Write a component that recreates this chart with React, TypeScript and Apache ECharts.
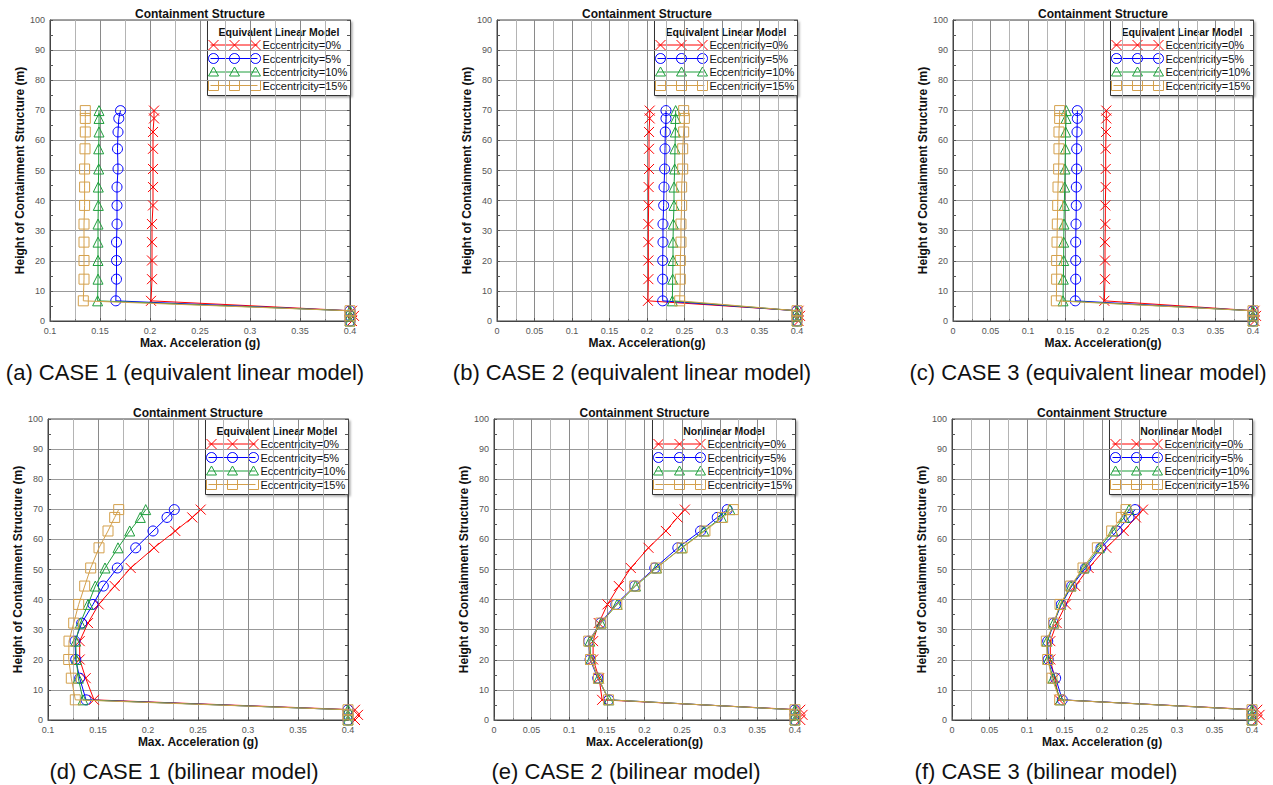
import React, { useEffect, useRef } from "react";
import * as echarts from "echarts";

// Heights of measurement points (m)
const heights = [69.9, 67.3, 62.8, 57.2, 50.5, 44.5, 38.4, 32.2, 26.2, 20.1, 13.9, 6.7, 3.4, 1.7, 0];

// (a) CASE 1 equivalent linear
const caseA_ecc0 = [0.204, 0.204, 0.203, 0.203, 0.203, 0.203, 0.203, 0.202, 0.202, 0.202, 0.202, 0.201, 0.402, 0.404, 0.402];
const caseA_ecc5 = [0.1705, 0.1688, 0.168, 0.1675, 0.168, 0.167, 0.167, 0.167, 0.1665, 0.1665, 0.1665, 0.1658, 0.4, 0.4, 0.4];
const caseA_ecc10 = [0.149, 0.149, 0.149, 0.1487, 0.1487, 0.1483, 0.1483, 0.148, 0.148, 0.148, 0.148, 0.1476, 0.4, 0.4, 0.4];
const caseA_ecc15 = [0.1353, 0.1353, 0.1353, 0.135, 0.1346, 0.1346, 0.1346, 0.134, 0.134, 0.134, 0.134, 0.1333, 0.4, 0.4, 0.4];

// (b) CASE 2 equivalent linear
const caseB_ecc0 = [0.2036, 0.2036, 0.2027, 0.2027, 0.2027, 0.2022, 0.2022, 0.2018, 0.2018, 0.2018, 0.2018, 0.2013, 0.402, 0.404, 0.402];
const caseB_ecc5 = [0.2253, 0.2253, 0.2244, 0.224, 0.2236, 0.2227, 0.2222, 0.2213, 0.2213, 0.2209, 0.2209, 0.2209, 0.4, 0.4, 0.4];
const caseB_ecc10 = [0.2382, 0.2382, 0.2378, 0.2373, 0.2369, 0.236, 0.236, 0.2351, 0.2347, 0.2347, 0.2342, 0.2338, 0.4, 0.4, 0.4];
const caseB_ecc15 = [0.2489, 0.2498, 0.2489, 0.2476, 0.2476, 0.2462, 0.2462, 0.2453, 0.2453, 0.2444, 0.2444, 0.2436, 0.4, 0.4, 0.4];

// (c) CASE 3 equivalent linear
const caseC_ecc0 = [0.2044, 0.2044, 0.204, 0.2036, 0.2036, 0.2036, 0.2031, 0.2031, 0.2027, 0.2027, 0.2027, 0.2018, 0.402, 0.404, 0.402];
const caseC_ecc5 = [0.1658, 0.1658, 0.1653, 0.1649, 0.1649, 0.1644, 0.1644, 0.164, 0.1636, 0.1636, 0.1636, 0.1631, 0.4, 0.4, 0.4];
const caseC_ecc10 = [0.1511, 0.1507, 0.1502, 0.1498, 0.1493, 0.1489, 0.1484, 0.148, 0.1476, 0.1476, 0.1471, 0.1467, 0.4, 0.4, 0.4];
const caseC_ecc15 = [0.1422, 0.1422, 0.1413, 0.1413, 0.1409, 0.14, 0.1396, 0.1391, 0.1387, 0.1382, 0.1382, 0.1378, 0.4, 0.4, 0.4];

// (d) CASE 1 bilinear
const caseD_ecc0 = [0.2527, 0.2443, 0.2273, 0.206, 0.1827, 0.1667, 0.1507, 0.14, 0.1317, 0.1317, 0.1377, 0.146, 0.407, 0.41, 0.407];
const caseD_ecc5 = [0.2263, 0.219, 0.205, 0.1877, 0.1693, 0.1553, 0.145, 0.1337, 0.127, 0.1277, 0.1317, 0.138, 0.4, 0.4, 0.4];
const caseD_ecc10 = [0.1977, 0.1923, 0.1817, 0.17, 0.157, 0.1473, 0.14, 0.1323, 0.1277, 0.1283, 0.1303, 0.135, 0.4, 0.4, 0.4];
const caseD_ecc15 = [0.1707, 0.1667, 0.16, 0.151, 0.1427, 0.1367, 0.1307, 0.1257, 0.121, 0.1207, 0.1233, 0.1273, 0.4, 0.4, 0.4];

// (e) CASE 2 bilinear
const caseE_ecc0 = [0.2537, 0.2439, 0.2284, 0.2053, 0.1818, 0.1659, 0.1508, 0.1392, 0.1317, 0.1317, 0.1397, 0.1437, 0.407, 0.41, 0.407];
const caseE_ecc5 = [0.31, 0.2967, 0.2745, 0.2443, 0.2137, 0.1871, 0.1619, 0.1415, 0.1259, 0.1277, 0.1379, 0.1526, 0.4, 0.4, 0.4];
const caseE_ecc10 = [0.3135, 0.3024, 0.2789, 0.2492, 0.216, 0.188, 0.1636, 0.1424, 0.1273, 0.1286, 0.1388, 0.1526, 0.4, 0.4, 0.4];
const caseE_ecc15 = [0.318, 0.3038, 0.2803, 0.2501, 0.2155, 0.1871, 0.1632, 0.1419, 0.1259, 0.1282, 0.1388, 0.1521, 0.4, 0.4, 0.4];

// (f) CASE 3 bilinear
const caseF_ecc0 = [0.2547, 0.2453, 0.2289, 0.2058, 0.1822, 0.1644, 0.152, 0.1396, 0.1311, 0.1311, 0.1369, 0.1431, 0.407, 0.41, 0.407];
const caseF_ecc5 = [0.244, 0.236, 0.22, 0.1987, 0.1782, 0.1596, 0.1458, 0.1356, 0.1276, 0.1284, 0.1382, 0.1471, 0.4, 0.4, 0.4];
const caseF_ecc10 = [0.236, 0.2298, 0.2147, 0.1964, 0.176, 0.1587, 0.1449, 0.1356, 0.1267, 0.128, 0.1347, 0.1444, 0.4, 0.4, 0.4];
const caseF_ecc15 = [0.232, 0.2258, 0.2129, 0.1938, 0.1747, 0.1582, 0.144, 0.1356, 0.1258, 0.1276, 0.1333, 0.1436, 0.4, 0.4, 0.4];

const seriesNames = ["Eccentricity=0%", "Eccentricity=5%", "Eccentricity=10%", "Eccentricity=15%"];
const chartTitle = "Containment Structure";
const yAxisTitle = "Height of Containment Structure (m)";

const panels = [
  { data: [caseA_ecc0, caseA_ecc5, caseA_ecc10, caseA_ecc15], xMin: 0.1, xName: "Max. Acceleration (g)", legendTitle: "Equivalent Linear Model", caption: "(a) CASE 1 (equivalent linear model)" },
  { data: [caseB_ecc0, caseB_ecc5, caseB_ecc10, caseB_ecc15], xMin: 0, xName: "Max. Acceleration(g)", legendTitle: "Equivalent Linear Model", caption: "(b) CASE 2 (equivalent linear model)" },
  { data: [caseC_ecc0, caseC_ecc5, caseC_ecc10, caseC_ecc15], xMin: 0, xName: "Max. Acceleration(g)", legendTitle: "Equivalent Linear Model", caption: "(c) CASE 3 (equivalent linear model)" },
  { data: [caseD_ecc0, caseD_ecc5, caseD_ecc10, caseD_ecc15], xMin: 0.1, xName: "Max. Acceleration (g)", legendTitle: "Equivalent Linear Model", caption: "(d) CASE 1 (bilinear model)" },
  { data: [caseE_ecc0, caseE_ecc5, caseE_ecc10, caseE_ecc15], xMin: 0, xName: "Max. Acceleration(g)", legendTitle: "Nonlinear Model", caption: "(e) CASE 2 (bilinear model)" },
  { data: [caseF_ecc0, caseF_ecc5, caseF_ecc10, caseF_ecc15], xMin: 0, xName: "Max. Acceleration (g)", legendTitle: "Nonlinear Model", caption: "(f) CASE 3 (bilinear model)" },
];

// layout (pixels)
const gridBoxes = [
  { left: 50, top: 20, width: 300, height: 301, capX: 185, capY: 372 },
  { left: 497, top: 20, width: 300, height: 301, capX: 632, capY: 372 },
  { left: 953, top: 20, width: 300, height: 301, capX: 1088, capY: 372 },
  { left: 48, top: 419, width: 300, height: 301, capX: 184, capY: 771 },
  { left: 494, top: 419, width: 301, height: 301, capX: 626, capY: 771 },
  { left: 952, top: 419, width: 300, height: 301, capX: 1046, capY: 771 },
];

const COLORS = ["#FF0000", "#0000FF", "#1E9E3C", "#D4A04C"];
const KINDS = ["x", "circle", "triangle", "square"];
const SYMBOLS = ["path://M0,0L10,10M10,0L0,10", "circle", "triangle", "rect"];
const FONT = '"Liberation Sans", Arial, Helvetica, sans-serif';

function marker(kind: string, cx: number, cy: number, color: string): any[] {
  const st = { fill: "none", stroke: color, lineWidth: 1 };
  if (kind === "x")
    return [
      { type: "line", shape: { x1: cx - 5, y1: cy - 5, x2: cx + 5, y2: cy + 5 }, style: st },
      { type: "line", shape: { x1: cx + 5, y1: cy - 5, x2: cx - 5, y2: cy + 5 }, style: st },
    ];
  if (kind === "circle") return [{ type: "circle", shape: { cx, cy, r: 5 }, style: st }];
  if (kind === "triangle")
    return [{ type: "polygon", shape: { points: [[cx, cy - 5], [cx + 5, cy + 4], [cx - 5, cy + 4]] }, style: st }];
  return [{ type: "rect", shape: { x: cx - 5, y: cy - 5, width: 10, height: 10 }, style: st }];
}

function legendGroup(L: number, T: number, title: string) {
  const children: any[] = [];
  children.push({
    type: "rect",
    shape: { x: 0, y: 0, width: 143, height: 75 },
    style: { fill: "#fff", stroke: "#333", lineWidth: 1, shadowBlur: 2, shadowOffsetX: 1.5, shadowOffsetY: 1.5, shadowColor: "rgba(0,0,0,0.35)" },
  });
  children.push({
    type: "text",
    x: 71.5,
    y: 11.5,
    style: { text: title, font: `bold 10.5px ${FONT}`, fill: "#111", align: "center", verticalAlign: "middle", textAlign: "center", textVerticalAlign: "middle" },
  });
  seriesNames.forEach((name, i) => {
    const y = 24.5 + i * 13.5;
    children.push({ type: "line", shape: { x1: 3, y1: y, x2: 50, y2: y }, style: { stroke: COLORS[i], lineWidth: 1 } });
    [6, 27, 48].forEach((mx) => children.push(...marker(KINDS[i], mx, y, COLORS[i])));
    children.push({
      type: "text",
      x: 55,
      y,
      style: { text: name, font: `11px ${FONT}`, fill: "#111", align: "left", verticalAlign: "middle", textAlign: "left", textVerticalAlign: "middle" },
    });
  });
  return { type: "group", x: L + 0.5, y: T + 0.5, z: 100, children };
}

export default function App() {
  const ref = useRef<HTMLDivElement>(null);
  useEffect(() => {
    if (!ref.current) return;
    const chart = echarts.init(ref.current, undefined, { renderer: "svg" });

    const grid: any[] = [];
    const xAxis: any[] = [];
    const yAxis: any[] = [];
    const series: any[] = [];
    const graphic: any[] = [];

    panels.forEach((p, gi) => {
      const g = gridBoxes[gi];
      grid.push({ left: g.left, top: g.top, width: g.width, height: g.height, show: true, borderColor: "#444", borderWidth: 1, backgroundColor: "transparent" });
      xAxis.push({
        gridIndex: gi,
        type: "value",
        min: p.xMin,
        max: 0.4,
        interval: 0.05,
        name: p.xName,
        nameLocation: "middle",
        nameGap: 16,
        nameTextStyle: { fontFamily: FONT, fontWeight: "bold", fontSize: 12, color: "#111", verticalAlign: "top" },
        axisLine: { show: true, lineStyle: { color: "#444" } },
        axisTick: { show: true, inside: true, length: 3, lineStyle: { color: "#555" } },
        minorTick: { show: true, splitNumber: 2, length: 2, lineStyle: { color: "#777" } },
        splitLine: { show: true, lineStyle: { color: "#8a8a8a", width: 1 } },
        minorSplitLine: { show: true, lineStyle: { color: "#b4b4b4", width: 1 } },
        axisLabel: { fontFamily: FONT, fontSize: 9, color: "#555", margin: 5, formatter: (v: number) => String(parseFloat(v.toFixed(3))) },
      });
      yAxis.push({
        gridIndex: gi,
        type: "value",
        min: 0,
        max: 100,
        interval: 10,
        name: yAxisTitle,
        nameLocation: "middle",
        nameGap: 22,
        nameTextStyle: { fontFamily: FONT, fontWeight: "bold", fontSize: 12, color: "#111" },
        axisLine: { show: true, lineStyle: { color: "#444" } },
        axisTick: { show: true, inside: true, length: 3, lineStyle: { color: "#555" } },
        minorTick: { show: true, splitNumber: 2, length: 3, lineStyle: { color: "#555" } },
        splitLine: { show: true, lineStyle: { color: "#999999", width: 1 } },
        axisLabel: { fontFamily: FONT, fontSize: 9, color: "#555", margin: 5 },
      });
      yAxis.push({
        gridIndex: gi,
        type: "value",
        position: "right",
        min: 0,
        max: 100,
        interval: 10,
        axisLine: { show: true, lineStyle: { color: "#444" } },
        axisTick: { show: true, inside: true, length: 3, lineStyle: { color: "#555" } },
        minorTick: { show: true, splitNumber: 2, length: 3, lineStyle: { color: "#555" } },
        splitLine: { show: false },
        axisLabel: { show: false },
      });

      p.data.forEach((xs, si) => {
        series.push({
          type: "line",
          name: seriesNames[si],
          xAxisIndex: gi,
          yAxisIndex: gi * 2,
          data: heights.map((h, k) => [xs[k], h]),
          clip: false,
          symbol: SYMBOLS[si],
          symbolSize: 10,
          lineStyle: { color: COLORS[si], width: 1 },
          itemStyle: { color: "rgba(0,0,0,0)", borderColor: COLORS[si], borderWidth: 1 },
          emphasis: { disabled: true },
          z: 2 + si,
        });
      });

      graphic.push({
        type: "text",
        x: g.left + g.width / 2,
        y: g.top - 6,
        z: 100,
        style: { text: chartTitle, font: `bold 12px ${FONT}`, fill: "#111", align: "center", verticalAlign: "middle", textAlign: "center", textVerticalAlign: "middle" },
      });
      graphic.push({
        type: "text",
        x: g.capX,
        y: g.capY,
        z: 100,
        style: { text: p.caption, font: `22px ${FONT}`, fill: "#111", align: "center", verticalAlign: "middle", textAlign: "center", textVerticalAlign: "middle" },
      });
      graphic.push(legendGroup(g.left + g.width - 143, g.top, p.legendTitle));
    });

    chart.setOption({
      animation: false,
      backgroundColor: "#fff",
      textStyle: { fontFamily: FONT },
      grid,
      xAxis,
      yAxis,
      series,
      graphic,
    });
    return () => chart.dispose();
  }, []);
  return <div ref={ref} style={{ position: "absolute", left: 0, top: 0, width: 1273, height: 785 }} />;
}
